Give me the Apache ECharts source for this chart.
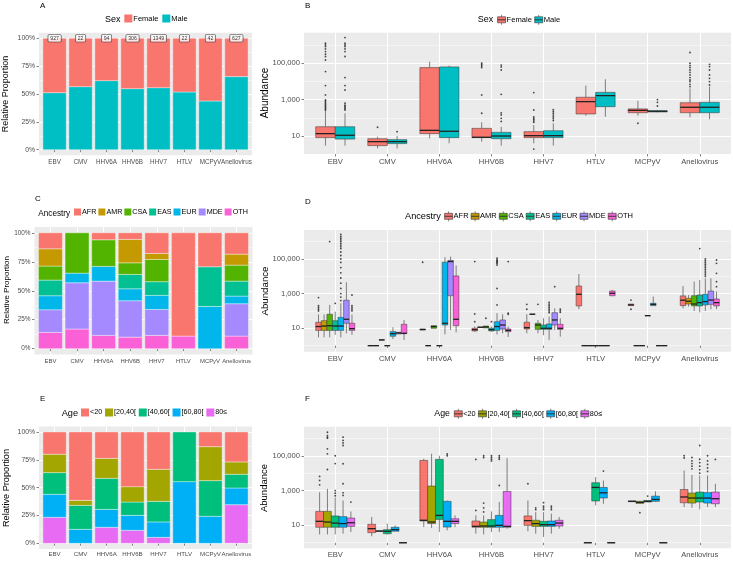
<!DOCTYPE html>
<html><head><meta charset="utf-8">
<script src="https://cdn.jsdelivr.net/npm/echarts@6/dist/echarts.min.js"></script>
<style>html,body{margin:0;padding:0;background:#fff}#c{width:733px;height:561px}</style>
</head><body><div id="c"></div>
<script>
// ---------- categories & groups ----------
const categories = ['EBV','CMV','HHV6A','HHV6B','HHV7','HTLV','MCPyV','Anellovirus'];
const sexGroups = ['Female','Male'];
const ancestryGroups = ['AFR','AMR','CSA','EAS','EUR','MDE','OTH'];
const ageGroups = ['<20','[20,40[','[40,60[','[60,80[','80≤'];
const sexColors = ['#F8766D','#00BFC4'];
const ancestryColors = ['#F8766D','#C49A00','#53B400','#00C094','#00B6EB','#A58AFF','#FB61D7'];
const ageColors = ['#F8766D','#A3A500','#00BF7D','#00B0F6','#E76BF3'];

// ---------- panel A: proportion by sex ----------
const sampleCounts = [927,22,94,306,1349,22,42,627];
const sexPropFemale = [0.488,0.434,0.38,0.452,0.443,0.482,0.563,0.344];
const sexPropMale   = [0.512,0.566,0.62,0.548,0.557,0.518,0.437,0.656];

// ---------- panel C: proportion by ancestry ----------
const ancPropAFR = [0.138,0,0.06,0.057,0.178,0.891,0.293,0.184];
const ancPropAMR = [0.149,0,0,0.202,0.052,0,0,0.095];
const ancPropCSA = [0.121,0.348,0.23,0.10,0.192,0,0,0.138];
const ancPropEAS = [0.135,0,0,0.124,0.118,0,0.342,0.129];
const ancPropEUR = [0.121,0.083,0.127,0.103,0.121,0,0.365,0.066];
const ancPropMDE = [0.195,0.399,0.468,0.314,0.224,0,0,0.279];
const ancPropOTH = [0.141,0.17,0.115,0.10,0.115,0.109,0,0.109];

// ---------- panel E: proportion by age ----------
const agePropU20 = [0.20,0.614,0.237,0.491,0.335,0,0.132,0.269];
const agePropA20 = [0.165,0.045,0.179,0.138,0.288,0,0.305,0.111];
const agePropA40 = [0.195,0.215,0.279,0.12,0.185,0.446,0.32,0.123];
const agePropA60 = [0.206,0.126,0.161,0.134,0.138,0.554,0.243,0.15];
const agePropA80 = [0.234,0,0.144,0.117,0.054,0,0,0.347];

// ---------- boxplots: [lowerWhisker, Q1, median, Q3, upperWhisker] in log10(abundance) ----------
// panel B (sex)
const sexBoxFemale = [[0.47,0.91,1.13,1.51,2.40],[0.32,0.47,0.69,0.85,0.96],[0.87,1.13,1.31,4.76,5.09],[0.69,0.91,0.93,1.42,1.75],[0.60,0.91,1.02,1.24,1.60],[2.12,2.21,2.89,3.13,3.77],[2.12,2.28,2.41,2.49,2.93],[2.03,2.28,2.58,2.83,3.62]];
const sexBoxMale = [[0.47,0.83,1.04,1.51,2.25],[0.32,0.58,0.69,0.80,1.00],[0.60,0.91,1.26,4.80,4.87],[0.47,0.85,1.00,1.20,1.50],[0.47,0.91,1.02,1.29,1.70],[2.06,2.61,3.22,3.40,4.12],[2.30,2.32,2.36,2.39,2.42],[1.92,2.28,2.58,2.85,3.72]];
const sexOutFemale = [[2.43,2.5,2.57,2.64,2.71,2.78,2.85,2.92,2.98,3.26,3.77,4.54,5.18,5.37,5.5,5.64,5.79,5.92,6.01,6.10],[1.48],[],[2.25,3.26,4.76,4.85,4.92,5.0],[0.28,1.75,1.82,1.9,1.97,2.05,2.43,3.39],[],[1.7],[3.72,3.84,3.99,4.08,4.21,4.36,4.5,4.63,4.76,4.87,5.0,5.59]];
const sexOutMale = [[2.43,2.5,2.57,2.64,2.7,2.8,3.53,3.77,4.21,5.37,5.64,5.79,5.92,6.01,6.10,6.41],[1.24],[],[1.8,1.97,2.16,2.27,3.29,4.63,4.8,4.9],[1.85,1.95,2.05,2.15,2.25,2.35,2.45],[],[2.65,2.85,3.0],[3.81,3.99,4.17,4.36,4.63,4.82,4.94]];

// panel D (ancestry)
const ancBoxAFR = [[0.48,0.88,1.1,1.35,1.8],[0,0,0,0,0],[0.9,0.9,0.93,0.96,0.96],[0.8,0.85,0.92,1.0,1.1],[0.71,0.96,1.04,1.35,1.81],[2.1,2.29,2.96,3.44,4.13],[2.31,2.31,2.35,2.4,2.4],[2.15,2.31,2.62,2.87,3.44]];
const ancBoxAMR = [[0.48,0.88,1.13,1.44,1.8],[0,0,0,0,0],[0,0,0,0,0],[1.06,1.06,1.06,1.06,1.06],[1.81,1.81,1.81,1.81,1.81],[0,0,0,0,0],[0,0,0,0,0],[2.25,2.4,2.56,2.73,2.92]];
const ancBoxCSA = [[0.48,0.88,1.15,1.81,2.35],[0.33,0.33,0.33,0.33,0.33],[1.0,1.0,1.1,1.15,1.15],[1.02,1.02,1.08,1.13,1.13],[0.71,0.94,1.19,1.29,1.48],[0,0,0,0,0],[0,0,0,0,0],[2.0,2.29,2.4,2.88,3.69]];
const ancBoxEAS = [[0.62,0.88,1.13,1.44,1.96],[0,0,0,0,0],[0,0,0,0,0],[0.8,0.85,0.92,1.0,1.1],[0.6,0.94,1.0,1.19,1.58],[0,0,0,0,0],[1.73,1.73,1.73,1.73,1.73],[1.92,2.29,2.48,2.92,3.79]];
const ancBoxEUR = [[0.48,0.88,1.13,1.63,2.45],[0.38,0.54,0.69,0.81,1.06],[0.65,1.19,1.29,4.81,5.1],[0.65,0.88,1.1,1.38,1.87],[0.33,0.94,1.0,1.25,1.67],[0,0,0,0,0],[2.28,2.31,2.38,2.44,2.83],[2.0,2.35,2.54,2.96,3.88]];
const ancBoxMDE = [[0.71,1.29,1.52,2.62,3.65],[0.67,0.67,0.73,0.77,0.77],[0.9,2.88,4.85,4.92,5.13],[0.71,0.96,1.19,1.48,1.81],[0.9,1.19,1.48,1.9,2.15],[0,0,0,0,0],[0,0,0,0,0],[2.1,2.38,2.63,3.15,3.88]];
const ancBoxOTH = [[0.62,0.88,0.98,1.29,1.8],[0.33,0.69,0.71,1.23,1.48],[0.77,1.15,1.52,4.02,4.62],[0.5,0.81,0.88,0.96,1.1],[0.52,0.94,1.0,1.23,1.58],[2.85,2.88,3.02,3.15,3.2],[0,0,0,0,0],[2.1,2.29,2.48,2.69,3.12]];
const ancOutAFR = [[2.0,2.1,2.2,2.3,2.77],[],[4.81],[1.38,1.83,4.85],[2.1,2.38],[],[2.1,2.63],[]];
const ancOutAMR = [[],[],[],[],[],[],[],[]];
const ancOutCSA = [[6.0],[],[],[1.58],[2.38],[],[],[]];
const ancOutEAS = [[2.44],[],[],[1.38],[],[],[],[5.6]];
const ancOutEUR = [[2.6,2.8,3.0,3.3,3.6,3.9,4.2,4.5,4.8,5.0,5.2,5.4,5.6,5.7,5.8,5.9,6.0,6.1,6.2,6.3,6.42],[],[],[2.35,3.3,4.65,4.75,4.8,4.85,4.9,4.95,5.04],[1.9,2.0,2.1,2.2,2.3,2.4,2.5],[],[],[4.0,4.1,4.2,4.3,4.4,4.5,4.6,4.7,4.8,4.9,5.0]];
const ancOutMDE = [[],[],[],[],[3.4],[],[],[]];
const ancOutOTH = [[2.0,2.1,2.2,2.3,2.92],[],[],[1.81,1.88,4.85],[1.92,2.0,2.1],[],[],[3.4,3.69,4.17,4.75,4.94]];

// panel F (age)
const ageBoxU20 = [[0.48,0.89,1.23,1.8,2.9],[0.37,0.58,0.81,1.06,1.48],[0.9,1.25,1.29,4.73,4.82],[0.52,0.89,0.94,1.25,1.57],[0.66,1.0,1.27,1.54,2.43],null,[2.36,2.36,2.38,2.4,2.4],[2.05,2.3,2.63,3.06,4.15]];
const ageBoxA20 = [[0.48,0.89,1.19,1.8,3.1],[0.66,0.66,0.67,0.68,0.68],[0.85,1.1,1.19,3.26,5.11],[0.48,0.89,0.96,1.19,1.57],[0.52,0.94,1.1,1.29,1.76],[0,0,0,0,0],[2.24,2.26,2.32,2.38,2.4],[2.01,2.28,2.57,2.85,3.9]];
const ageBoxA40 = [[0.48,0.89,1.13,1.54,2.6],[0.46,0.52,0.66,0.75,1.1],[0.62,1.34,1.57,4.79,5.0],[0.62,0.89,0.96,1.33,1.8],[0.33,0.94,1.04,1.23,1.76],[2.15,2.4,3.18,3.45,3.77],[2.34,2.34,2.38,2.43,2.43],[1.92,2.34,2.57,2.91,3.87]];
const ageBoxA60 = [[0.52,0.89,1.1,1.5,2.43],[0.66,0.66,0.75,0.89,1.0],[0.71,0.9,1.23,2.38,2.43],[0.62,0.89,1.0,1.57,2.34],[0.52,0.94,1.04,1.25,1.67],[2.24,2.57,2.87,3.18,3.58],[2.34,2.38,2.49,2.68,2.95],[2.05,2.28,2.57,2.88,3.87]];
const ageBoxA80 = [[0.62,0.94,1.15,1.42,1.8],[0,0,0,0,0],[0.9,1.1,1.23,1.38,1.57],[0.81,0.89,0.94,2.95,4.86],[0.81,0.96,1.13,1.29,1.48],[0,0,0,0,0],[0,0,0,0,0],[2.05,2.24,2.53,2.91,3.39]];
const ageOutU20 = [[3.33,3.58,3.81],[],[],[1.86,4.79],[3.39],[],[],[4.87,5.0]];
const ageOutA20 = [[4.21,5.11,5.4,6.01,6.07,6.16,6.35],[],[],[1.77,2.0,2.28,4.9,5.0],[1.9,2.0],[],[1.73],[4.25,4.4,4.55,4.7,4.9]];
const ageOutA40 = [[2.7,2.85,3.0,4.55,5.0],[],[],[4.7,4.8,4.9,5.0],[1.9,2.0,2.1,2.3],[],[2.68],[4.0,4.2,4.4,4.6,4.8,5.59]];
const ageOutA60 = [[2.72,2.87,3.39,4.54,5.59,5.74,5.88,6.07],[],[5.0,5.1],[3.29,4.8,4.9,5.0],[1.9,2.0,2.1],[4.12],[],[4.1,4.3,4.5,4.7,5.0]];
const ageOutA80 = [[2.34],[],[],[],[],[],[],[4.79]];

// ---------- axis ticks ----------
const propTicks = [0,0.25,0.5,0.75,1];
const propMinor = [0.125,0.375,0.625,0.875];
const logTicks = [1,3,5];        // 10, 1,000, 100,000
const logMinor = [0,2,4,6];
const catTicks = categories.map((c,i)=>i+1);

// ---------- build ----------
const FONT = '"Liberation Sans", Arial, Helvetica, sans-serif';
const grids=[], xAxes=[], yAxes=[], series=[];

function addPanel(p, c){
  grids.push({left:c.r[0], top:c.r[1], width:c.r[2], height:c.r[3], show:true, backgroundColor:'#EBEBEB', borderWidth:0});
  xAxes.push({gridIndex:p, type:'value', min:0.4, max:8.6,
    axisLine:{show:false},
    axisTick:{show:true, length:2.5, lineStyle:{color:'#333', width:0.6}, customValues:catTicks},
    axisLabel:{customValues:catTicks, formatter:v=>categories[Math.round(v)-1], fontSize:c.xFont, color:'#4D4D4D', margin:c.xMargin, fontFamily:FONT,
      hideOverlap:false, showMinLabel:true, showMaxLabel:true},
    splitLine:{show:true, lineStyle:{color:'#fff', width:1}}});
  yAxes.push({gridIndex:p, type:'value', min:c.yMin, max:c.yMax,
    axisLine:{show:false},
    axisTick:{show:true, length:2.5, lineStyle:{color:'#333', width:0.6}, customValues:c.major},
    axisLabel:{customValues:c.major, formatter:c.fmt, fontSize:c.yFont, color:'#4D4D4D', margin:4, fontFamily:FONT,
      hideOverlap:false, showMinLabel:true, showMaxLabel:true},
    splitLine:{show:true, lineStyle:{color:'#fff', width:1}}});
  yAxes.push({gridIndex:p, type:'value', min:c.yMin, max:c.yMax,
    axisLine:{show:false}, axisTick:{show:false, customValues:c.minor}, axisLabel:{show:false},
    splitLine:{show:true, lineStyle:{color:'#fff', width:0.5}}});
}

const pctFmt = v => Math.round(v*100)+'%';
const logFmt = v => Math.round(Math.pow(10,v)).toLocaleString('en-US');

addPanel(0,{r:[39,32.7,213,122.6], yMin:-0.05, yMax:1.05, major:propTicks, minor:propMinor, fmt:pctFmt, xFont:6.3, xMargin:3.5, yFont:6.8});
addPanel(1,{r:[304,32.7,427,121.3], yMin:0.01, yMax:6.68, major:logTicks, minor:logMinor, fmt:logFmt, xFont:7.6, xMargin:4, yFont:7.6});
addPanel(2,{r:[34.5,227,218,127.5], yMin:-0.05, yMax:1.05, major:propTicks, minor:propMinor, fmt:pctFmt, xFont:5.9, xMargin:4, yFont:6.4});
addPanel(3,{r:[304,230,427,121.7], yMin:-0.35, yMax:6.67, major:logTicks, minor:logMinor, fmt:logFmt, xFont:7.6, xMargin:3, yFont:7.6});
addPanel(4,{r:[39,426.4,213,122.5], yMin:-0.05, yMax:1.05, major:propTicks, minor:propMinor, fmt:pctFmt, xFont:6.1, xMargin:2.5, yFont:6.8});
addPanel(5,{r:[304,426.7,427,121.6], yMin:-0.32, yMax:6.67, major:logTicks, minor:logMinor, fmt:logFmt, xFont:7.6, xMargin:2.5, yFont:7.6});

function barRender(params, api){
  const x=api.value(0), y0=api.value(1), y1=api.value(2), w=api.value(3);
  const a=api.coord([x-w/2,y1]), b=api.coord([x+w/2,y0]);
  return {type:'rect', shape:{x:a[0], y:a[1], width:b[0]-a[0], height:b[1]-a[1]},
    style:{fill:api.visual('color'), stroke:'rgba(255,255,255,0.75)', lineWidth:0.5}};
}
function stackedBars(p, groups, colors, props){
  const cum = categories.map(()=>0);
  for (let g=groups.length-1; g>=0; g--){
    const data=[];
    props[g].forEach((v,ci)=>{ if(v>0) data.push([ci+1, cum[ci], cum[ci]+v, 0.9]); cum[ci]+=v; });
    series.push({type:'custom', name:groups[g], xAxisIndex:p, yAxisIndex:2*p, silent:true,
      itemStyle:{color:colors[g]}, renderItem:barRender, encode:{x:0,y:2}, data});
  }
}
function boxRender(params, api){
  const x=api.value(0), lo=api.value(1), q1=api.value(2), md=api.value(3), q3=api.value(4), hi=api.value(5), w=api.value(6);
  const tl=api.coord([x-w/2,q3]), br=api.coord([x+w/2,q1]);
  const ph=api.coord([x,hi]), pl=api.coord([x,lo]);
  const ml=api.coord([x-w/2,md]), mr=api.coord([x+w/2,md]);
  const ls={stroke:'#333', lineWidth:0.6};
  return {type:'group', children:[
    {type:'line', shape:{x1:ph[0],y1:ph[1],x2:ph[0],y2:tl[1]}, style:ls},
    {type:'line', shape:{x1:pl[0],y1:br[1],x2:pl[0],y2:pl[1]}, style:ls},
    {type:'rect', shape:{x:tl[0],y:tl[1],width:br[0]-tl[0],height:br[1]-tl[1]}, style:{fill:api.visual('color'), stroke:'#333', lineWidth:0.5}},
    {type:'line', shape:{x1:ml[0],y1:ml[1],x2:mr[0],y2:mr[1]}, style:{stroke:'#222', lineWidth:1.3}}
  ]};
}
function boxes(p, groups, colors, boxSets, outSets){
  const n=groups.length, slot=0.75/n, outData=[];
  groups.forEach((g,gi)=>{
    const data=[];
    boxSets[gi].forEach((b,ci)=>{
      if(!b) return;
      const x=ci+1+(gi-(n-1)/2)*slot;
      data.push([x,b[0],b[1],b[2],b[3],b[4],slot]);
      (outSets[gi][ci]||[]).forEach(v=>outData.push([x,v]));
    });
    series.push({type:'custom', name:g, xAxisIndex:p, yAxisIndex:2*p, silent:true,
      itemStyle:{color:colors[gi]}, renderItem:boxRender, encode:{x:0,y:3}, data});
  });
  series.push({type:'scatter', xAxisIndex:p, yAxisIndex:2*p, silent:true, symbolSize:1.8,
    itemStyle:{color:'#1a1a1a'}, data:outData, z:3});
}

stackedBars(0, sexGroups, sexColors, [sexPropFemale, sexPropMale]);
series.push({type:'scatter', xAxisIndex:0, yAxisIndex:0, silent:true, symbolSize:1, itemStyle:{color:'rgba(0,0,0,0)'}, z:5,
  data: sampleCounts.map((n,i)=>[i+1,1]),
  label:{show:true, position:'inside', formatter:p=>String(sampleCounts[p.dataIndex]), fontSize:5.2, fontFamily:FONT, color:'#000',
    backgroundColor:'#fff', borderColor:'#222', borderWidth:0.6, borderRadius:1, padding:[1.2,2,0.8,2]}});
boxes(1, sexGroups, sexColors, [sexBoxFemale, sexBoxMale], [sexOutFemale, sexOutMale]);
stackedBars(2, ancestryGroups, ancestryColors, [ancPropAFR,ancPropAMR,ancPropCSA,ancPropEAS,ancPropEUR,ancPropMDE,ancPropOTH]);
boxes(3, ancestryGroups, ancestryColors, [ancBoxAFR,ancBoxAMR,ancBoxCSA,ancBoxEAS,ancBoxEUR,ancBoxMDE,ancBoxOTH], [ancOutAFR,ancOutAMR,ancOutCSA,ancOutEAS,ancOutEUR,ancOutMDE,ancOutOTH]);
stackedBars(4, ageGroups, ageColors, [agePropU20,agePropA20,agePropA40,agePropA60,agePropA80]);
boxes(5, ageGroups, ageColors, [ageBoxU20,ageBoxA20,ageBoxA40,ageBoxA60,ageBoxA80], [ageOutU20,ageOutA20,ageOutA40,ageOutA60,ageOutA80]);

const boxIcon = 'path://M4,0L4,2M0,2L8,2L8,5L0,5ZM0,5L8,5L8,8L0,8ZM4,8L4,10';
function legendRect(names, left, cy, fs, size, gap){
  return {data:names, left, top:cy-5, icon:'rect', itemWidth:size, itemHeight:size, itemGap:gap, padding:0, selectedMode:false,
    itemStyle:{borderWidth:0}, textStyle:{fontSize:fs, fontFamily:FONT, color:'#000', padding:[0,0,0,-4]}};
}
function legendBox(names, left, cy, fs, gap){
  return {data:names, left, top:cy-5, icon:boxIcon, itemWidth:8, itemHeight:10, itemGap:gap, padding:0, selectedMode:false,
    itemStyle:{borderColor:'#333', borderWidth:0.6}, textStyle:{fontSize:fs, fontFamily:FONT, color:'#000', padding:[0,0,0,-4]}};
}

function txt(text, x, y, fs, opts){
  return Object.assign({type:'text', x, y, silent:true, z:10,
    style:Object.assign({text, fontSize:fs, fontFamily:FONT, fill:'#000', align:'left', verticalAlign:'middle'}, opts||{})});
}
function vtxt(text, x, y, fs){
  return {type:'text', x, y, rotation:Math.PI/2, silent:true, z:10,
    style:{text, fontSize:fs, fontFamily:FONT, fill:'#000', align:'center', verticalAlign:'middle'}};
}

const option = {
  animation:false,
  backgroundColor:'#fff',
  grid:grids, xAxis:xAxes, yAxis:yAxes, series,
  legend:[
    legendRect(sexGroups, 124.3, 19.5, 7.5, 8, 4),
    legendBox(sexGroups, 497.3, 19.5, 7.6, 2.5),
    legendRect(ancestryGroups, 74, 213.5, 7.2, 7, 2),
    legendBox(ancestryGroups, 444.3, 216, 7.5, 2.2),
    legendRect(ageGroups, 81, 413.5, 7.2, 8, 2.8),
    legendBox(ageGroups, 454, 413.5, 7.3, 2.5)
  ],
  graphic:{elements:[
    txt('A',40,5.5,8), txt('B',305,5.5,8), txt('C',35,199.2,8), txt('D',305,201.7,8), txt('E',40,398.7,8), txt('F',305,398.7,8),
    txt('Sex',105,19.5,9), txt('Sex',477.7,19.5,9),
    txt('Ancestry',38.3,213.5,8.2), txt('Ancestry',405,216,9.2),
    txt('Age',61.7,413.5,9.2), txt('Age',434.3,413.5,8.8),
    vtxt('Relative Proportion',6,94,9), vtxt('Relative Proportion',6.5,290,8), vtxt('Relative Proportion',6,488,9.2),
    vtxt('Abundance',265,93,10), vtxt('Abundance',265,291,9.7), vtxt('Abundance',264,488,9.5)
  ]}
};
const chart = echarts.init(document.getElementById('c'), null, {renderer:'canvas'});
chart.setOption(option);
</script></body></html>
